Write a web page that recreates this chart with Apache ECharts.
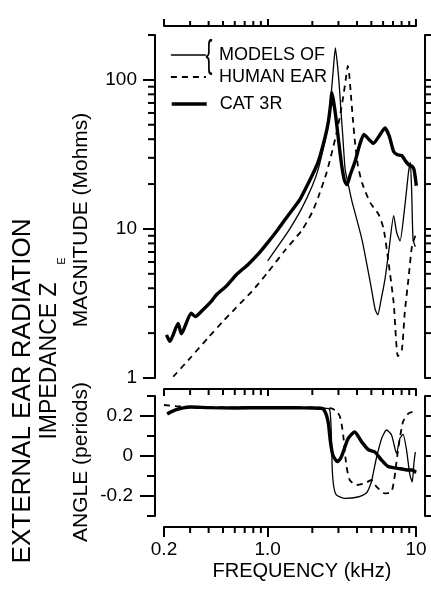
<!DOCTYPE html>
<html><head><meta charset="utf-8">
<script src="https://cdn.jsdelivr.net/npm/echarts@6/dist/echarts.min.js"></script>
<style>html,body{margin:0;padding:0;background:#fff}#c{width:431px;height:592px}</style>
</head><body><div id="c"></div>
<script>
// ---- tick values / labels ----
const freqMin = 0.2, freqMax = 10;
const freqMajor = [0.2, 1, 10];
const freqMajorLabels = ['0.2', '1.0', '10'];
const freqMinor = [0.3, 0.4, 0.5, 0.6, 0.7, 0.8, 0.9, 2, 3, 4, 5, 6, 7, 8, 9];
const magMin = 1, magMax = 200;
const magMajor = [1, 10, 100];
const magMajorLabels = ['1', '10', '100'];
const magMinor = [2, 3, 4, 5, 6, 7, 8, 9, 20, 30, 40, 50, 60, 70, 80, 90, 200];
const angMin = -0.3, angMax = 0.3;
const angMajor = [-0.2, 0, 0.2];
const angMajorLabels = ['-0.2', '0', '0.2'];
const angMinor = [-0.3, -0.1, 0.1, 0.3];

// ---- series names ----
const nameSolid = 'MODELS OF';
const nameDashed = 'HUMAN EAR';
const nameCat = 'CAT 3R';

// ---- magnitude (Mohms) vs frequency (kHz) ----
const magSolid = [[1.0,6.1],[1.2,7.9],[1.4,9.9],[1.7,13.8],[2.0,19.5],[2.2,25.5],[2.45,40],[2.57,52],[2.68,80],[2.77,118],[2.86,164],[2.95,128],[3.03,95],[3.12,62],[3.22,40],[3.33,25],[3.51,19.5],[3.69,15.5],[4.32,8.5],[5.0,4.0],[5.3,2.9],[5.53,2.65],[5.8,3.3],[6.18,4.6],[6.6,7.5],[7.07,12.3],[7.4,9.5],[7.8,8.3],[8.42,14.4],[8.9,24],[9.15,28],[9.35,18],[9.55,8.5],[9.9,7.6]];
const magDashed = [[0.231,1.02],[0.3,1.36],[0.4,1.88],[0.5,2.4],[0.6,2.9],[0.78,3.8],[1.0,5.1],[1.31,7.2],[1.7,9.8],[2.0,13],[2.2,16.5],[2.5,24],[2.85,40],[3.05,55],[3.25,80],[3.38,105],[3.47,124],[3.55,108],[3.62,85],[3.75,55],[3.89,37],[4.05,27],[4.32,20.5],[4.91,15],[5.6,12.5],[6.05,10],[6.52,6.0],[7.07,3.2],[7.55,1.4],[8.03,1.55],[8.4,2.75],[8.93,4.8],[9.4,7.7],[9.9,9.0]];
const magCat = [[0.208,1.95],[0.219,1.76],[0.249,2.32],[0.262,1.98],[0.305,2.72],[0.325,2.58],[0.358,2.8],[0.418,3.28],[0.452,3.62],[0.528,4.15],[0.617,4.95],[0.741,5.8],[0.865,6.8],[1.0,8.1],[1.18,10],[1.38,12.4],[1.65,15.8],[2.0,23],[2.2,28.5],[2.45,42],[2.57,53],[2.65,67],[2.71,82],[2.78,72],[2.87,58],[3.0,40],[3.15,27],[3.3,21],[3.42,19.8],[3.6,23],[3.89,28.5],[4.15,36],[4.45,43],[4.8,40],[5.17,37.5],[5.6,41.5],[6.18,47.5],[6.6,42],[7.07,33],[7.5,31.5],[8.03,31],[8.5,28.5],[8.92,27],[9.4,26.3],[9.7,25],[10.05,19.5]];

// ---- angle (periods) vs frequency (kHz) ----
const angSolid = [[1.0,0.24],[2.0,0.24],[2.5,0.238],[2.62,0.232],[2.67,0.16],[2.7,0.05],[2.73,-0.08],[2.8,-0.16],[2.91,-0.195],[3.31,-0.212],[4.07,-0.205],[4.63,-0.185],[5.0,-0.13],[5.2,-0.07],[5.41,-0.01],[5.85,0.085],[6.33,0.13],[6.84,0.105],[7.39,0.013],[7.79,0.088],[8.18,0.108],[8.6,0.038],[9.1,-0.095],[9.43,-0.13],[9.7,-0.03],[9.9,0.02]];
const angDashed = [[0.2,0.255],[0.25,0.248],[0.4,0.244],[1.0,0.243],[2.0,0.243],[2.69,0.238],[2.9,0.225],[3.06,0.2],[3.15,0.16],[3.23,0.105],[3.39,-0.045],[3.57,-0.12],[3.96,-0.145],[4.51,-0.137],[5.0,-0.12],[5.41,-0.153],[6.16,-0.187],[6.84,-0.178],[7.2,-0.095],[7.59,0.038],[8.18,0.172],[8.9,0.213],[9.6,0.222]];
const angCat = [[0.21,0.21],[0.225,0.222],[0.25,0.235],[0.3,0.245],[0.4,0.242],[0.6,0.24],[1.0,0.242],[1.5,0.241],[2.0,0.24],[2.3,0.238],[2.4,0.23],[2.5,0.2],[2.57,0.16],[2.65,0.07],[2.75,0.005],[2.95,-0.028],[3.1,-0.012],[3.23,0.02],[3.49,0.088],[3.86,0.12],[4.29,0.072],[4.76,0.032],[5.28,0.02],[5.85,-0.02],[6.49,-0.053],[7.59,-0.062],[8.89,-0.07],[9.4,-0.07],[9.84,-0.078],[10.05,-0.08]];

const FONT = '"Liberation Sans", Arial, sans-serif';
const K = '#000';
const TW = 2; // tick stroke

function labeler(vals, labels) {
  return function (v) {
    let best = 0, bd = Infinity;
    vals.forEach((x, i) => { const d = Math.abs(x - v); if (d < bd) { bd = d; best = i; } });
    return labels[best];
  };
}
function ax(o) {
  const a = {
    type: o.type, gridIndex: o.grid, position: o.pos, offset: o.offset,
    min: o.min, max: o.max, silent: true,
    axisLine: { show: true, onZero: false, lineStyle: { color: K, width: 2 } },
    axisTick: { show: true, inside: false, customValues: o.ticks, length: o.len, lineStyle: { color: K, width: TW } },
    axisLabel: o.labels ? { show: true, customValues: o.ticks, formatter: labeler(o.ticks, o.labels),
      margin: o.margin, color: K, fontSize: 19, fontFamily: FONT } : { show: false },
    splitLine: { show: false }, minorTick: { show: false }, minorSplitLine: { show: false }
  };
  if (o.type === 'log') a.logBase = 10;
  return a;
}

const xAxes = [
  ax({ type: 'log', grid: 0, pos: 'top', offset: 9, min: freqMin, max: freqMax, ticks: freqMajor, len: 7 }),
  ax({ type: 'log', grid: 0, pos: 'bottom', offset: 11, min: freqMin, max: freqMax, ticks: freqMajor, len: 7 }),
  ax({ type: 'log', grid: 1, pos: 'bottom', offset: 11, min: freqMin, max: freqMax, ticks: freqMajor, len: 10, labels: freqMajorLabels, margin: 13 })
];
const yAxes = [
  ax({ type: 'log', grid: 0, pos: 'left', offset: 9, min: magMin, max: magMax, ticks: magMajor, len: 12, labels: magMajorLabels, margin: 18 }),
  ax({ type: 'log', grid: 0, pos: 'right', offset: 9, min: magMin, max: magMax, ticks: magMajor, len: 12 }),
  ax({ type: 'value', grid: 1, pos: 'left', offset: 9, min: angMin, max: angMax, ticks: angMajor, len: 15, labels: angMajorLabels, margin: 22 }),
  ax({ type: 'value', grid: 1, pos: 'right', offset: 9, min: angMin, max: angMax, ticks: angMajor, len: 15 })
];

// minor ticks: short marks placed on the panel edge through the data axes, pushed out to the offset axis lines
function minorTicks(xi, yi, pts, horiz, len, off) {
  return {
    type: 'scatter', data: pts, xAxisIndex: xi, yAxisIndex: yi, clip: false, silent: true,
    symbol: 'rect', symbolSize: horiz ? [len, TW] : [TW, len],
    symbolOffset: horiz ? [off, 0] : [0, off],
    itemStyle: { color: K, opacity: 1 }, z: 5, animation: false
  };
}

const styles = {
  solid: { color: K, width: 1.3, type: 'solid' },
  dashed: { color: K, width: 1.8, type: [6, 5] },
  cat: { color: K, width: 3.4, type: 'solid' }
};
function ser(name, data, xi, yi, st, z) {
  return { type: 'line', name, data, xAxisIndex: xi, yAxisIndex: yi, symbol: 'none', showSymbol: false,
    smooth: 0.2, lineStyle: st, itemStyle: { color: K }, z, silent: true, animation: false };
}
const legendCommon = {
  orient: 'vertical', left: 165, itemWidth: 35, itemHeight: 14, selectedMode: false,
  itemStyle: { opacity: 0, color: 'rgba(0,0,0,0)', borderWidth: 0 },
  textStyle: { color: K, fontSize: 18, fontFamily: FONT, padding: [0, 0, 0, 8] }
};
const txt = (text, x, y, size, rot) => ({
  type: 'text', x, y, rotation: rot ? Math.PI / 2 : 0, silent: true,
  style: { text, fontSize: size, fontFamily: FONT, fill: K, align: 'center', verticalAlign: 'middle', textAlign: 'center', textVerticalAlign: 'middle' }
});

const option = {
  backgroundColor: '#fff',
  animation: false,
  grid: [
    { left: 164, right: 15, top: 35, height: 343 },
    { left: 164, right: 15, top: 396, height: 120 }
  ],
  xAxis: xAxes,
  yAxis: yAxes,
  legend: [
    Object.assign({}, legendCommon, { top: 41, itemGap: 4, data: [
      { name: nameSolid, lineStyle: styles.solid },
      { name: nameDashed, lineStyle: styles.dashed }
    ] }),
    Object.assign({}, legendCommon, { top: 90, data: [{ name: nameCat, lineStyle: styles.cat }] })
  ],
  graphic: [
    Object.assign(txt('{', 209, 57, 38, false), { scaleX: 0.55 }),
    txt('EXTERNAL EAR RADIATION', 23, 391, 26, true),
    txt('IMPEDANCE Z', 50, 361, 23, true),
    txt('E', 62, 261, 11, true),
    txt('MAGNITUDE (Mohms)', 81.5, 220, 21, true),
    txt('ANGLE (periods)', 81.5, 462, 21, true),
    txt('FREQUENCY (kHz)', 302, 571, 20, false)
  ],
  series: [
    // minor ticks, top panel
    minorTicks(0, 0, freqMinor.map(f => [f, magMax]), false, 5, -11.5),
    minorTicks(0, 0, freqMinor.map(f => [f, magMin]), false, 6, 14),
    minorTicks(0, 0, magMinor.map(m => [freqMin, m]), true, 7, -12.5),
    minorTicks(0, 0, magMinor.map(m => [freqMax, m]), true, 7, 12.5),
    // minor ticks, bottom panel
    minorTicks(2, 2, freqMinor.map(f => [f, angMin]), false, 6, 14),
    minorTicks(2, 2, angMinor.map(a => [freqMin, a]), true, 8, -13),
    minorTicks(2, 2, angMinor.map(a => [freqMax, a]), true, 8, 13),
    // data
    ser(nameSolid, magSolid, 0, 0, styles.solid, 3),
    ser(nameDashed, magDashed, 0, 0, styles.dashed, 3),
    ser(nameCat, magCat, 0, 0, styles.cat, 4),
    ser(nameSolid, angSolid, 2, 2, styles.solid, 3),
    ser(nameDashed, angDashed, 2, 2, styles.dashed, 3),
    ser(nameCat, angCat, 2, 2, styles.cat, 4)
  ]
};
const chart = echarts.init(document.getElementById('c'), null, { renderer: 'canvas' });
chart.setOption(option);
</script>
</body></html>
